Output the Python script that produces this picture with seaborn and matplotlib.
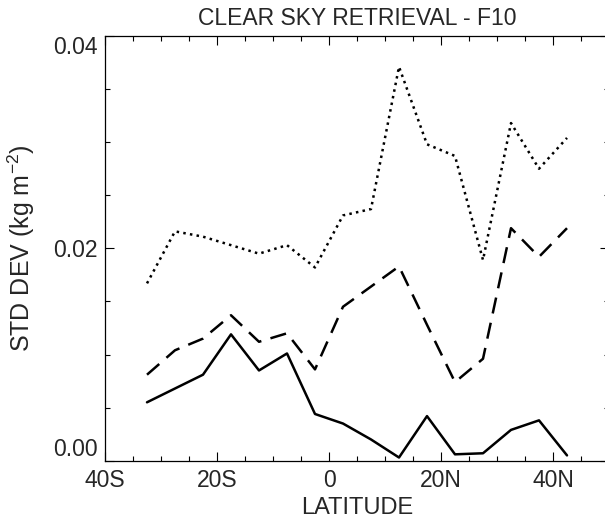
import numpy as np
import pandas as pd
import seaborn as sns
import matplotlib.pyplot as plt
from matplotlib.ticker import MultipleLocator

# latitude bin centres (degrees, negative = south)
lat = [-32.5, -27.5, -22.5, -17.5, -12.5, -7.5, -2.5, 2.5,
       7.5, 12.5, 17.5, 22.5, 27.5, 32.5, 37.5, 42.5]

# std dev values (kg m-2)
solid = [0.0055, 0.0068, 0.0081, 0.0119, 0.0085, 0.0101, 0.0044, 0.0035,
         0.0020, 0.0003, 0.0042, 0.0006, 0.0007, 0.0029, 0.0038, 0.0005]
dashed = [0.0081, 0.0104, 0.0115, 0.0137, 0.0112, 0.0120, 0.0086, 0.0145,
          0.0164, 0.0183, 0.0128, 0.0074, 0.0096, 0.0219, 0.0192, 0.0219]
dotted = [0.0167, 0.0216, 0.0211, 0.0203, 0.0195, 0.0203, 0.0182, 0.0231,
          0.0237, 0.0371, 0.0298, 0.0287, 0.0189, 0.0318, 0.0275, 0.0304]

xticks = [-40, -20, 0, 20, 40]
xticklabels = ['40S', '20S', '0', '20N', '40N']
yticks = [0.0, 0.02, 0.04]
yticklabels = ['0.00', '0.02', '0.04']

df = pd.DataFrame({
    'lat': lat * 3,
    'std': solid + dashed + dotted,
    'series': ['solid'] * 16 + ['dashed'] * 16 + ['dotted'] * 16,
})

sns.set_theme(style='white')
plt.rcParams['font.family'] = ['Liberation Sans', 'DejaVu Sans']
plt.rcParams['mathtext.fontset'] = 'custom'
plt.rcParams['mathtext.rm'] = 'Liberation Sans'

fig = plt.figure(figsize=(6.05, 5.24), dpi=100)
ax = fig.add_axes([105 / 605, 63.3 / 524, 504 / 605, 424.7 / 524])

sns.lineplot(data=df, x='lat', y='std', style='series', color='black',
             dashes={'solid': '', 'dashed': (6.5, 3.8), 'dotted': (1, 1.7)},
             linewidth=1.8, legend=False, ax=ax, sort=False)

ax.set_xlim(-40, 50)
ax.set_ylim(0, 0.04)
ax.set_xticks(xticks)
ax.set_xticklabels(xticklabels)
ax.set_yticks(yticks)
ax.set_yticklabels(yticklabels)
ax.xaxis.set_minor_locator(MultipleLocator(5))
ax.yaxis.set_minor_locator(MultipleLocator(0.005))

ax.tick_params(which='both', direction='in', top=True, right=True,
               bottom=True, left=True, color='black', width=0.8)
ax.tick_params(which='major', length=6.5, labelsize=16.5)
ax.tick_params(which='minor', length=3.5)
ax.tick_params(axis='x', which='major', pad=6)
ax.tick_params(axis='y', which='major', pad=5)

# end labels sit inside the axis range
ylabs = ax.get_yticklabels()
ylabs[0].set_va('bottom')
ylabs[-1].set_va('top')

for s in ax.spines.values():
    s.set_color('black')
    s.set_linewidth(0.9)

ax.set_title('CLEAR SKY RETRIEVAL - F10', fontsize=16.5, pad=8)
ax.set_xlabel('LATITUDE', fontsize=17)
ax.set_ylabel('STD DEV (kg m$^{\\mathregular{-2}}$)', fontsize=18)
ax.xaxis.set_label_coords(0.5, -0.085)
ax.yaxis.set_label_coords(-0.135, 0.5)

fig.savefig('out.png', dpi=100)
